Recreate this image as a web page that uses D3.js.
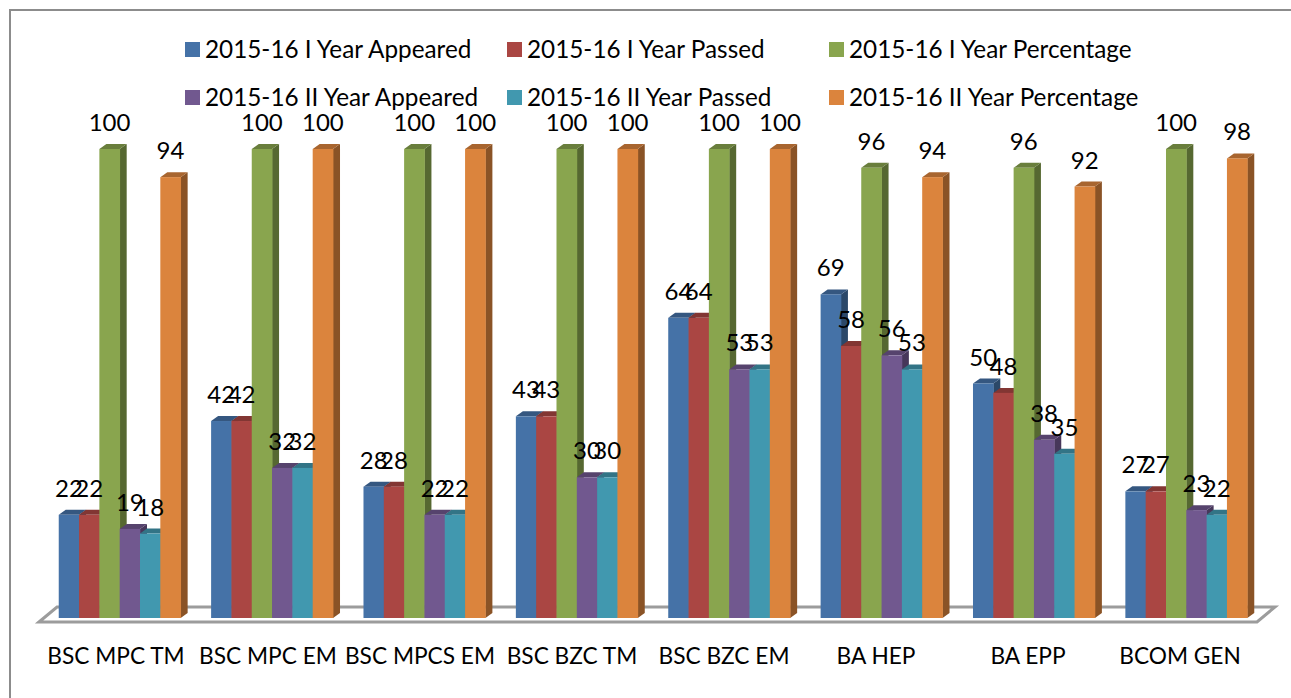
<!DOCTYPE html>
<html>
<head>
<meta charset="utf-8">
<script src="https://cdn.jsdelivr.net/npm/d3@7"></script>
<style>
html, body { margin: 0; padding: 0; background: #fff; }
text { font-family: Lato, "Open Sans", sans-serif; fill: #000; }
</style>
</head>
<body>
<div id="chart"></div>
<script>
var categories = ["BSC MPC TM", "BSC MPC EM", "BSC MPCS EM", "BSC BZC TM", "BSC BZC EM", "BA HEP", "BA EPP", "BCOM GEN"];
var seriesNames = ["2015-16 I Year Appeared", "2015-16 I Year Passed", "2015-16 I Year Percentage",
                   "2015-16 II Year Appeared", "2015-16 II Year Passed", "2015-16 II Year Percentage"];
var appeared1 = [22, 42, 28, 43, 64, 69, 50, 27];
var passed1 = [22, 42, 28, 43, 64, 58, 48, 27];
var percent1 = [100, 100, 100, 100, 100, 96, 96, 100];
var appeared2 = [19, 32, 22, 30, 53, 56, 38, 23];
var passed2 = [18, 32, 22, 30, 53, 53, 35, 22];
var percent2 = [94, 100, 100, 100, 100, 94, 92, 98];
var seriesValues = [appeared1, passed1, percent1, appeared2, passed2, percent2];
var colors = ["#4572a7", "#aa4643", "#89a54e", "#71588f", "#4198af", "#db843d"];

var width = 1291, height = 698;
var baseY = 618, topY = 149;
var depthX = 7, depthY = 5;

var svg = d3.select("#chart").append("svg")
    .attr("width", width)
    .attr("height", height)
    .style("display", "block");

// chart frame
svg.append("rect").attr("x", 10).attr("y", 10).attr("width", 1290).attr("height", 700)
    .attr("fill", "none").attr("stroke", "#8c8c8c").attr("stroke-width", 2);

var x0 = d3.scaleBand().domain(categories).range([43.5, 1262.5]).paddingInner(0.2).paddingOuter(0.1);
var x1 = d3.scaleBand().domain(d3.range(6)).range([0, x0.bandwidth()]);
var y = d3.scaleLinear().domain([0, 100]).range([baseY, topY]);
// the axis labels sit on a slightly tighter step than the bars
var labelX = d3.scaleBand().domain(categories).range([40, 1256]);

// floor
var floor = d3.path();
floor.moveTo(39, 622);
floor.lineTo(57, 607);
floor.lineTo(1275, 607);
floor.lineTo(1257, 622);
floor.closePath();
svg.append("path").attr("d", floor.toString())
    .attr("fill", "#fff").attr("stroke", "#9c9c9c").attr("stroke-width", 3);

function shade(c, k) { return d3.color(c).darker(k).formatHex(); }

var groups = svg.selectAll("g.cat").data(categories).enter().append("g")
    .attr("class", "cat")
    .attr("transform", function(d) { return "translate(" + x0(d) + ",0)"; });

groups.each(function(cat, ci) {
    var g = d3.select(this);
    seriesValues.forEach(function(vals, si) {
        var bx = x1(si), bw = x1.bandwidth(), ty = y(vals[ci]);
        // right side
        g.append("polygon")
            .attr("points", [[bx + bw, ty], [bx + bw + depthX, ty - depthY], [bx + bw + depthX, baseY - depthY], [bx + bw, baseY]].join(" "))
            .attr("fill", shade(colors[si], 1.3));
        // top
        g.append("polygon")
            .attr("points", [[bx, ty], [bx + depthX, ty - depthY], [bx + bw + depthX, ty - depthY], [bx + bw, ty]].join(" "))
            .attr("fill", shade(colors[si], 0.75));
        // front
        g.append("rect")
            .attr("x", bx).attr("y", ty).attr("width", bw + 0.4).attr("height", baseY - ty)
            .attr("fill", colors[si]);
    });
});

// value labels go on top of every bar
groups.each(function(cat, ci) {
    var g = d3.select(this);
    seriesValues.forEach(function(vals, si) {
        g.append("text")
            .attr("x", x1(si) + x1.bandwidth() / 2)
            .attr("y", y(vals[ci]) - 18)
            .attr("text-anchor", "middle")
            .style("font-size", "24px")
            .text(vals[ci]);
    });
});

// category labels
svg.selectAll("text.cat-label").data(categories).enter().append("text")
    .attr("class", "cat-label")
    .attr("x", function(d) { return labelX(d) + labelX.bandwidth() / 2; })
    .attr("y", 664)
    .attr("text-anchor", "middle")
    .style("font-size", "22.7px")
    .text(function(d) { return d; });

// legend
var legendX = [185, 507, 829];
var legendY = [49, 97];
var legend = svg.selectAll("g.legend").data(seriesNames).enter().append("g")
    .attr("class", "legend")
    .attr("transform", function(d, i) { return "translate(" + legendX[i % 3] + "," + legendY[Math.floor(i / 3)] + ")"; });
legend.append("rect").attr("y", -7).attr("width", 15).attr("height", 15)
    .attr("fill", function(d, i) { return colors[i]; });
legend.append("text").attr("x", 20).attr("y", 9)
    .style("font-size", "24.3px")
    .text(function(d) { return d; });
</script>
</body>
</html>
